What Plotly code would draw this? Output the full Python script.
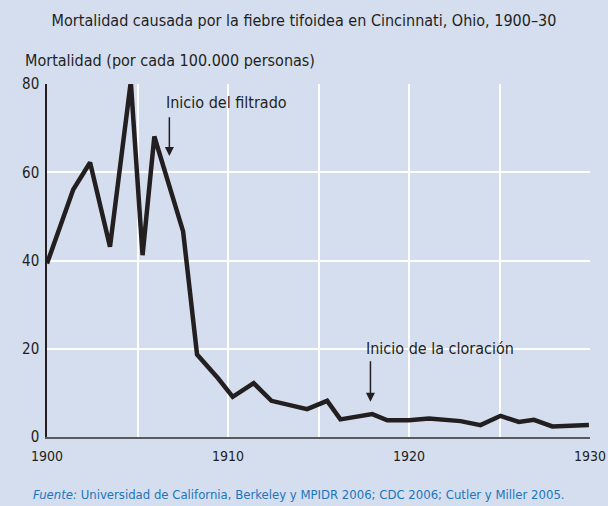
import plotly.graph_objects as go

# Data (x positions as drawn, in years)
years = [1900.0, 1901.45, 1902.38, 1903.48, 1904.63, 1905.28, 1905.93, 1907.52,
         1908.29, 1909.45, 1910.26, 1911.42, 1912.4, 1913.4, 1914.37, 1915.48,
         1916.21, 1917.97, 1918.8, 1920.0, 1921.1, 1922.85, 1923.95, 1925.06,
         1926.07, 1926.9, 1927.92, 1929.94]
mortality = [39.3, 56.1, 62.2, 43.1, 80.5, 41.2, 68.1, 46.6,
             18.7, 13.3, 9.1, 12.2, 8.2, 7.2, 6.3, 8.2,
             4.0, 5.2, 3.8, 3.8, 4.2, 3.6, 2.7, 4.8,
             3.4, 3.9, 2.4, 2.7]
x_ticks = [1900, 1910, 1920, 1930]
y_ticks = [0, 20, 40, 60, 80]

title = "Mortalidad causada por la fiebre tifoidea en Cincinnati, Ohio, 1900–30"
ylabel = "Mortalidad (por cada 100.000 personas)"
source = "<i>Fuente:</i> Universidad de California, Berkeley y MPIDR 2006; CDC 2006; Cutler y Miller 2005."
ann_filter = "Inicio del filtrado"
ann_chlor = "Inicio de la cloración"

BG = "#d5deef"
INK = "#231f20"
FONT = "Liberation Sans Narrow, DejaVu Sans Condensed, Arial Narrow, sans-serif"

fig = go.Figure()
fig.add_trace(go.Scatter(x=years, y=mortality, mode="lines",
                         line=dict(color=INK, width=4.5), hoverinfo="skip"))

fig.update_layout(
    width=608, height=506,
    margin=dict(l=47, r=18, t=84, b=69),
    paper_bgcolor=BG, plot_bgcolor=BG,
    showlegend=False,
    font=dict(family=FONT, color=INK, size=16),
    title=dict(text=title, x=0.5, xref="container", xanchor="center",
               y=1 - 20 / 506, yref="container", yanchor="middle",
               font=dict(family=FONT, size=16, color=INK)),
)
fig.update_xaxes(range=[1900, 1930], tickvals=x_ticks, ticktext=[str(v) for v in x_ticks],
                 showgrid=False, zeroline=False, showline=True, linecolor="#5a5a5a", linewidth=2,
                 ticks="", ticklabelstandoff=5, automargin=False,
                 tickfont=dict(family=FONT, size=14, color=INK),
                 minor=dict(tick0=1900, dtick=5, showgrid=True, gridcolor="white", gridwidth=2, ticklen=0))
fig.update_yaxes(range=[0, 80], tickvals=y_ticks, showgrid=True, gridcolor="white", gridwidth=2,
                 zeroline=False, showline=True, linecolor=INK, linewidth=1.5, ticks="",
                 ticklabelstandoff=3, automargin=False,
                 tickfont=dict(family=FONT, size=15, color=INK))

fig.add_annotation(text=ylabel, xref="paper", yref="paper", x=-0.044, y=1.067,
                   xanchor="left", yanchor="middle", showarrow=False,
                   font=dict(family=FONT, size=16, color=INK))
fig.add_annotation(text=source, xref="paper", yref="paper", x=-0.03, y=-0.163,
                   xanchor="left", yanchor="middle", showarrow=False,
                   font=dict(family=FONT, size=13, color="#1b75bc"))

# Filtration annotation
fig.add_annotation(text=ann_filter, x=1906.49, y=75.7, xanchor="left", yanchor="middle",
                   showarrow=False, font=dict(family=FONT, size=16, color=INK))
fig.add_annotation(text="", x=1906.76, y=63.7, ax=1906.76, ay=72.8, axref="x", ayref="y",
                   showarrow=True, arrowhead=2, arrowsize=1.2, arrowwidth=1.5, arrowcolor=INK)
# Chlorination annotation
fig.add_annotation(text=ann_chlor, x=1917.5, y=20.0, xanchor="left", yanchor="middle",
                   showarrow=False, font=dict(family=FONT, size=16, color=INK))
fig.add_annotation(text="", x=1917.87, y=8.0, ax=1917.87, ay=17.5, axref="x", ayref="y",
                   showarrow=True, arrowhead=2, arrowsize=1.2, arrowwidth=1.5, arrowcolor=INK)

fig.write_html("out.html", config={"displayModeBar": False},
               post_script="document.body.style.margin='0';")
